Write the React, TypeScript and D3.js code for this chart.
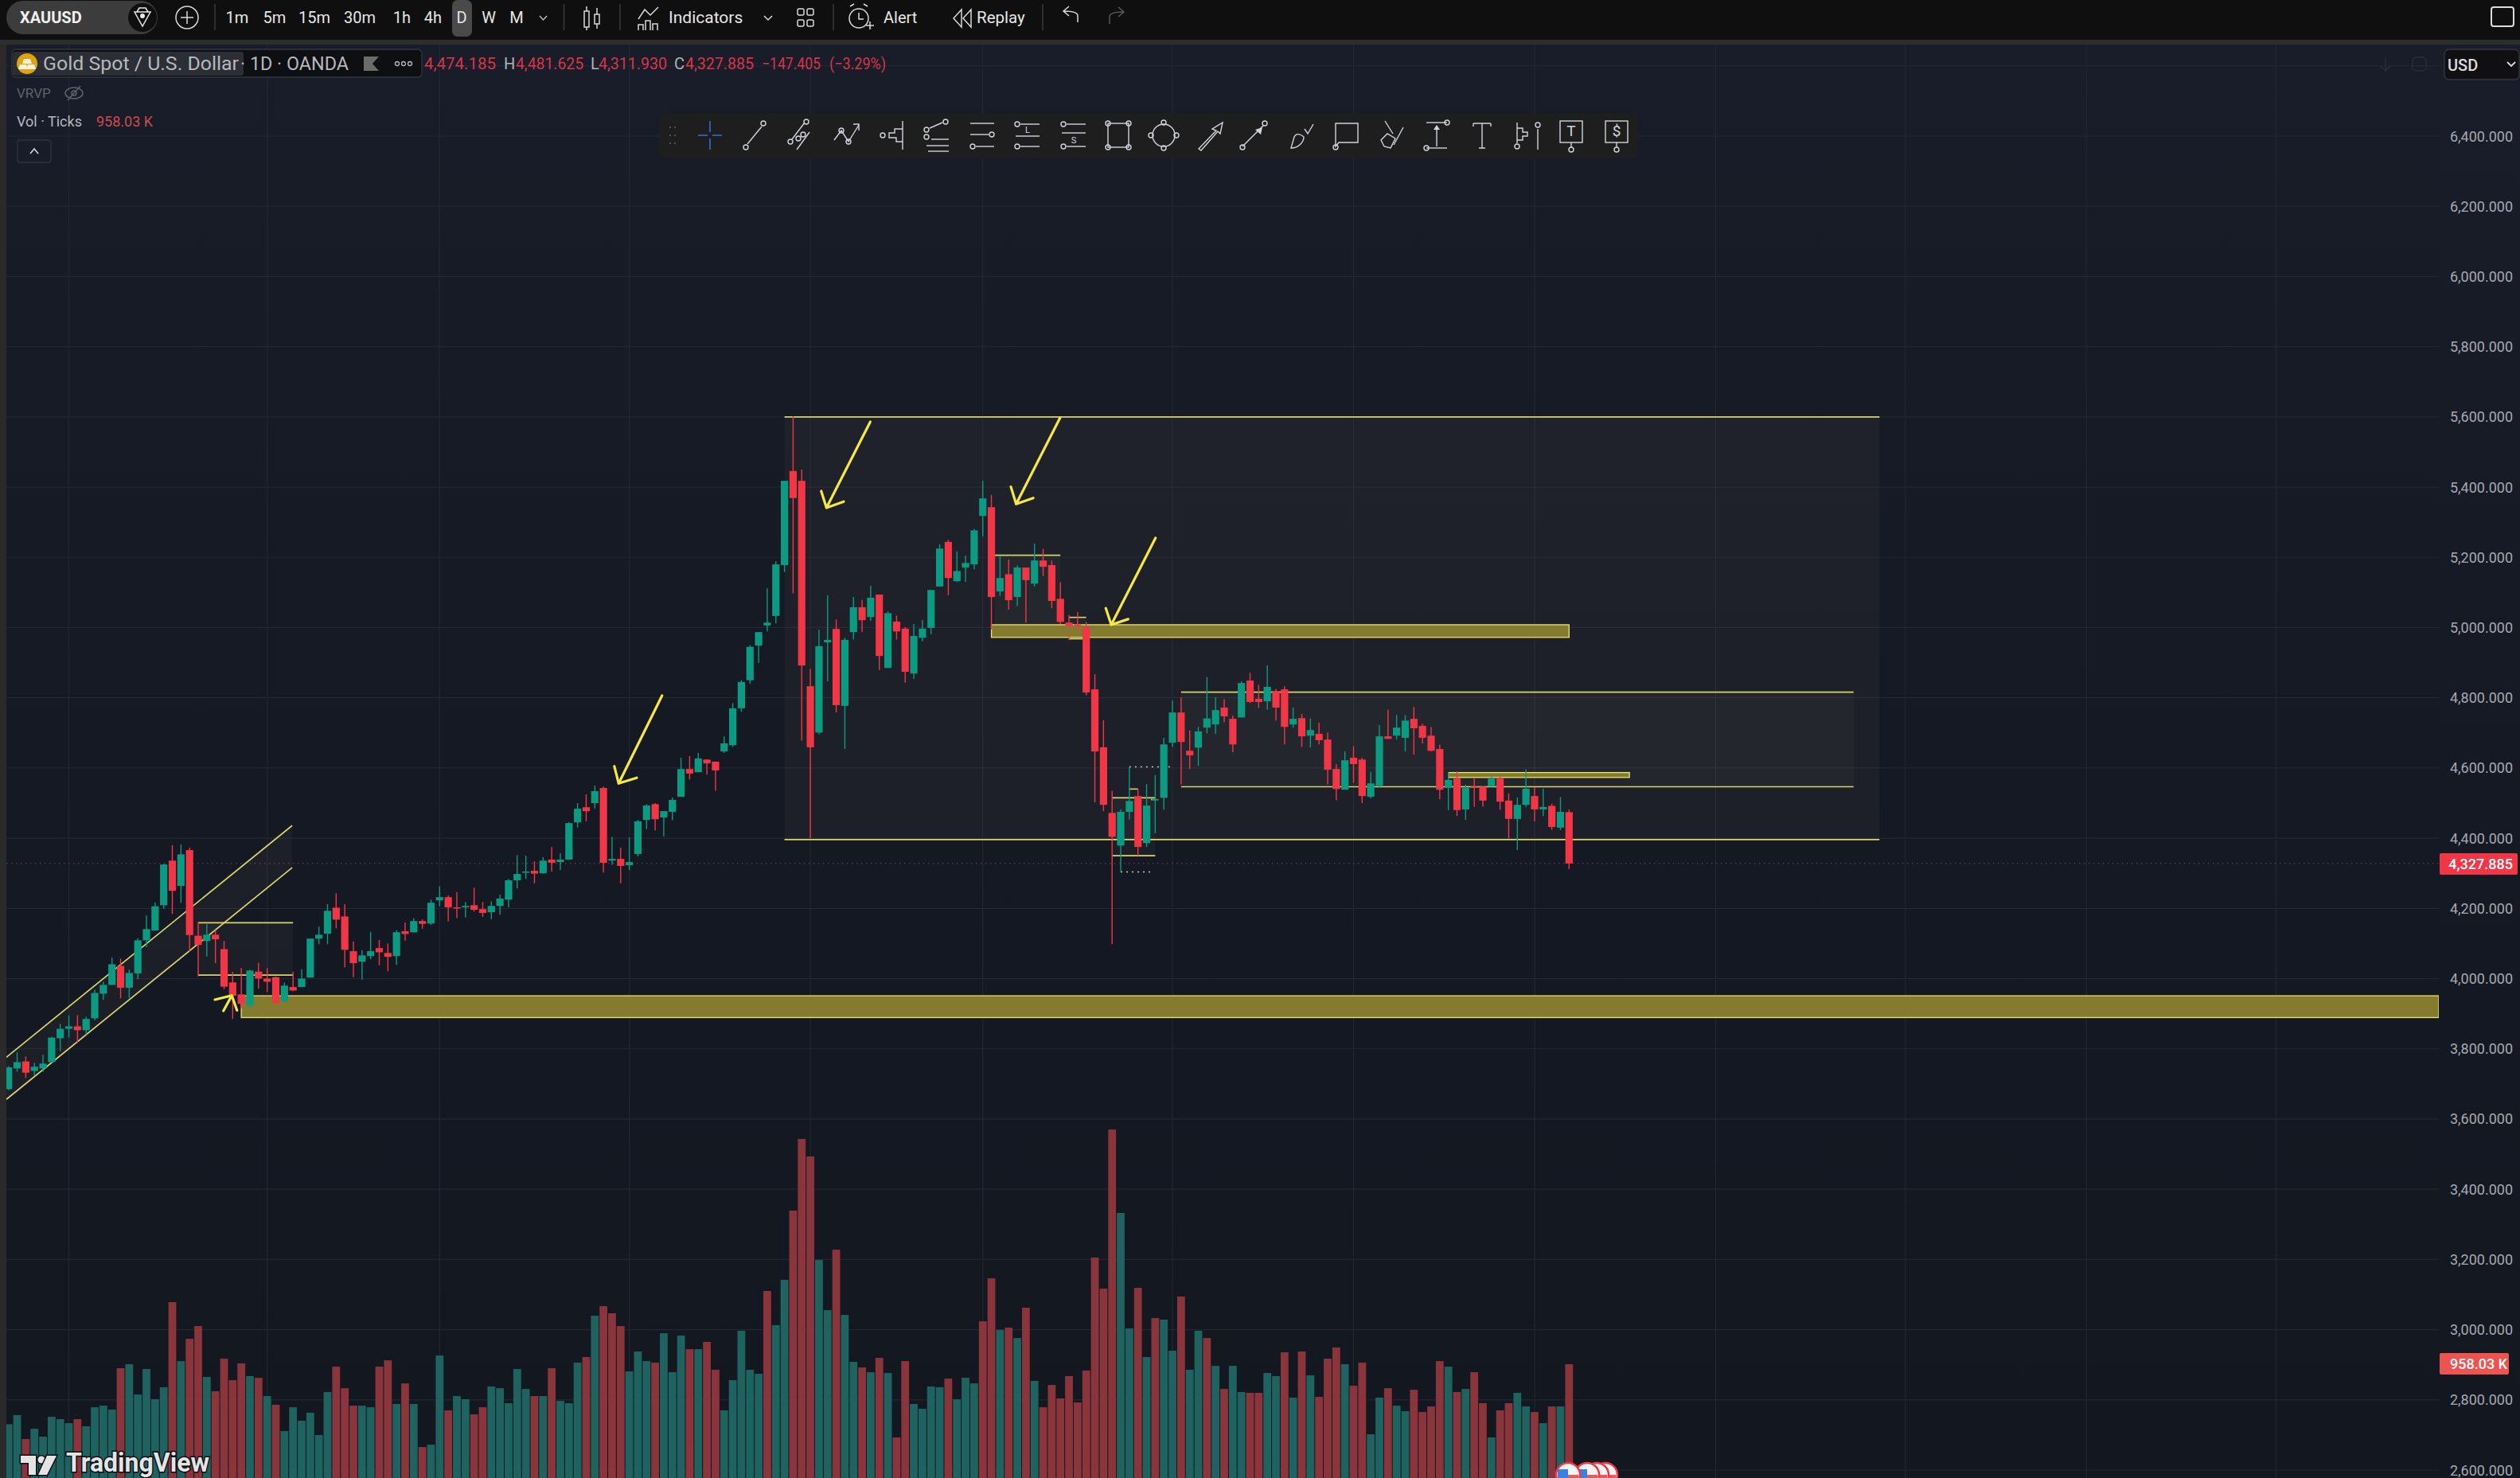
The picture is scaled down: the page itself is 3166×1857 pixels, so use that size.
import React from "react";
import * as d3 from "d3";

const W = 3166, H = 1857;
const opens = [3685,3744,3764,3737,3744,3762,3830,3857,3864,3853,3887,3957,3982,4036,3974,4015,4109,4137,4209,4336,4264,4366,4122,4107,4125,4084,3989,3955,3923,4020,4000,4004,3935,3976,3976,4003,4114,4128,4202,4177,4078,4048,4064,4087,4073,4064,4135,4132,4164,4157,4223,4232,4203,4203,4209,4198,4189,4207,4225,4280,4302,4307,4300,4339,4332,4339,4445,4488,4500,4543,4336,4341,4323,4355,4452,4497,4459,4475,4518,4597,4588,4624,4618,4647,4665,4770,4850,4949,5006,5033,5178,5446,5418,4833,4701,4958,4996,4777,4987,5058,5030,5094,4885,5017,4997,4869,4971,4999,5117,5244,5132,5171,5180,5318,5343,5103,5152,5087,5171,5125,5191,5178,5082,5014,5009,5001,4824,4659,4472,4379,4475,4520,4386,4509,4515,4672,4758,4649,4658,4715,4724,4772,4740,4744,4849,4797,4790,4819,4824,4724,4742,4692,4697,4681,4597,4538,4629,4624,4518,4549,4690,4692,4686,4740,4720,4692,4654,4543,4570,4482,4547,4547,4547,4570,4507,4455,4495,4520,4482,4492,4430,4474.185];
const highs = [3750,3790,3778,3760,3783,3834,3871,3895,3896,3891,3968,3991,4060,4057,4025,4115,4180,4217,4327,4380,4382,4373,4161,4155,4138,4107,4019,4030,4025,4045,4030,4006,3989,4019,4027,4114,4148,4212,4243,4212,4106,4081,4133,4110,4100,4138,4160,4172,4169,4225,4263,4237,4246,4218,4259,4218,4220,4239,4284,4352,4350,4334,4346,4375,4357,4446,4500,4525,4550,4547,4404,4373,4402,4452,4497,4500,4477,4516,4629,4634,4643,4624,4618,4690,4785,4850,4950,4987,5112,5189,5418,5602,5450,4882,4994,5092,5023,4971,5087,5079,5119,5094,5046,5034,5001,5010,5022,5107,5237,5250,5217,5205,5281,5418,5378,5204,5194,5177,5171,5239,5224,5191,5129,5036,5044,5016,4867,4736,4535,4482,4603,4539,4554,4580,4686,4792,4801,4707,4717,4859,4801,4796,4749,4847,4871,4837,4892,4825,4833,4772,4754,4741,4729,4701,4611,4647,4662,4629,4588,4722,4766,4751,4751,4774,4726,4717,4666,4588,4590,4552,4571,4547,4575,4575,4528,4516,4596,4545,4541,4498,4517,4481.625];
const lows = [3683,3735,3717,3722,3734,3760,3793,3832,3817,3840,3881,3939,3982,3944,3945,3998,4090,4137,4199,4184,4216,4078,4006,4063,4044,3970,3885,3915,3919,3971,3962,3929,3933,3964,3976,4003,4098,4098,4143,4032,4004,3997,4055,4038,4021,4039,4108,4131,4142,4153,4206,4163,4172,4174,4191,4176,4169,4182,4203,4257,4284,4271,4299,4305,4309,4339,4430,4448,4484,4302,4324,4271,4309,4348,4426,4422,4405,4451,4518,4567,4588,4581,4535,4643,4660,4760,4840,4899,4989,5012,5158,5097,4678,4400,4696,4847,4758,4654,4966,4987,5019,4879,4885,4966,4843,4854,4961,4981,5117,5092,5130,5130,5166,5259,4994,5090,5051,5061,5014,5117,5147,5055,5010,4964,4975,4807,4502,4477,4098,4304,4453,4350,4375,4414,4481,4660,4553,4597,4606,4699,4697,4730,4645,4744,4785,4771,4766,4735,4667,4715,4660,4658,4667,4553,4508,4538,4558,4500,4513,4544,4683,4681,4647,4638,4670,4647,4511,4480,4463,4452,4489,4490,4547,4481,4399,4366,4489,4448,4463,4424,4423,4311.93];
const closes = [3747,3762,3732,3749,3758,3832,3857,3864,3853,3885,3959,3982,4041,3974,4016,4109,4141,4206,4325,4250,4354,4124,4096,4125,4112,3977,3951,3928,4023,4000,3991,3930,3980,3966,4000,4114,4125,4193,4168,4082,4044,4066,4078,4075,4062,4132,4127,4164,4156,4216,4232,4203,4201,4207,4196,4187,4207,4228,4280,4298,4305,4299,4336,4330,4339,4443,4484,4477,4534,4330,4341,4321,4332,4448,4493,4454,4477,4509,4597,4584,4627,4613,4593,4670,4770,4845,4945,4987,5014,5180,5418,5369,4892,4659,4947,4965,4779,4965,5058,5021,5085,4919,5041,4989,4874,4976,4997,5107,5225,5141,5161,5184,5277,5368,5087,5141,5078,5171,5135,5191,5173,5076,5016,5003,5001,4815,4647,4495,4404,4475,4506,4375,4493,4511,4667,4758,4674,4636,4704,4741,4765,4747,4667,4842,4788,4788,4831,4772,4717,4740,4690,4708,4679,4595,4540,4622,4611,4520,4556,4690,4683,4715,4735,4713,4686,4649,4538,4566,4480,4543,4543,4507,4570,4504,4455,4495,4541,4482,4489,4432,4475,4327.885];
const volumes = [495,565,381,460,399,552,534,503,534,479,626,638,608,927,958,724,921,688,780,1437,982,1154,1252,859,749,1001,835,964,866,853,712,645,442,626,522,583,411,743,939,773,638,638,626,939,988,651,810,651,319,337,1025,602,712,688,571,626,786,773,657,921,767,712,712,927,675,657,970,1013,1332,1406,1351,1252,902,1056,982,970,1197,896,1179,1074,1074,1130,915,602,835,1216,915,884,1523,1259,1609,2143,2696,2561,1762,1375,1842,1338,976,933,896,1007,890,393,982,651,614,786,780,847,687,853,810,1289,1621,1222,1240,1160,1394,829,626,798,694,866,663,909,1781,1541,2769,2125,1234,1547,1013,1314,1302,1062,1480,915,1216,1160,945,767,945,743,737,737,890,866,1050,700,1056,872,706,1001,1087,958,792,970,417,700,773,638,595,761,589,632,982,939,743,767,896,657,393,602,657,737,632,589,503,632,632,958.03];
const volumeDirs = ("uuduuuuudu"+"uuuduuuuud"+"udduddddud"+"uduuuuuudd"+"duuddududu"+"uduudduuuu"+"ududuuudud"+"dduuuduuud"+"udduuuuudu"+"uddduuduud"+"ududduuuud"+"uuuddududu"+"dddddddddu"+"ududuuduud"+"uduudduudu"+"dudddudduu"+"duuddddudu"+"ddudduudud"+"ud").split("");
const priceTicks = [6600,6400,6200,6000,5800,5600,5400,5200,5000,4800,4600,4400,4200,4000,3800,3600,3400,3200,3000,2800,2600];
const monthBars = [7,30,50,72,93,113,135,156,177,198,220,241,263];
const lastPrice = 4327.885;
const lastVolume = 958.03;

// [firstBar, lastBar, topPrice, bottomPrice]
const softBoxes = [[90,217,5600,4396],[136,214,4816,4546.5],[22,33,4159,4010],[114.4,122,5206,4994],[128,133,4515,4350],[123,125,5029,4968]];
const goldZones = [[27,280,3951,3889],[114,181,5008,4972],[167,188,4587,4573]];
const shortLines = [[130,131,4540],[132.5,133.2,4510]];
const dottedLines = [[130,134.7,4603],[129,132.7,4304]];
// channel edge: [bar, price, bar, price]
const channelUpper = [-0.25,3776,32.9,4436];
const channelLower = [-0.25,3656,32.9,4316];
// arrows: shaft start, tip, head ends
const arrows = [
  [[99.95,5586],[94.87,5341],[94.26,5389],[96.87,5359]],
  [[121.95,5597],[116.87,5352],[116.26,5401],[118.85,5369]],
  [[133.03,5255],[127.9,5008],[127.27,5055],[129.86,5024]],
  [[75.8,4806],[70.77,4556],[70.26,4605],[72.87,4572]],
];
const starArrow = [[25.9,3952],[23.94,3940],[24.93,3908],[26.5,3909.5]];

const timeframes = [["1m",298],["5m",345],["15m",395],["30m",452],["1h",505],["4h",544],["D",580],["W",614],["M",649]];
const toolCentres = [892,948,1005,1063,1120,1178,1234,1291,1349,1405,1462,1520,1575,1634,1692,1747,1805,1862,1916,1974,2031];

const x = d3.scaleLinear().domain([0,181]).range([10.7,1971.3]);
const y = d3.scaleLinear().domain([6400,2600]).range([171,1847]);
const yVol = d3.scaleLinear().domain([0,lastVolume]).range([1870,1714]);

const UP = "#0a9b82", DOWN = "#f23645", VUP = "#1f6360", VDOWN = "#8a343c";
const LINE = "#d9d46e", ZONE = "#857b2f", ZLINE = "#ece46f", ARROW = "#f6e83e";
const TXT = "#d1d4dc", DIM = "#b0b3b8", RED = "#d9344a";
const font = "Roboto, sans-serif";
const fmt = d3.format(",.3f");
const plotRight = 3064;

const T = (p: any) => <text fontFamily={font} {...p} />;

function ToolIcon({ i, cx }: { i: number; cx: number }) {
  const s = { fill: "none", stroke: "#d1d4dc", strokeWidth: 1.4 };
  const c = (a: number, b: number, r = 3) => <circle cx={a} cy={b} r={r} {...s} />;
  const l = (a: number, b: number, e: number, f: number) => <line x1={a} y1={b} x2={e} y2={f} {...s} />;
  let g: any = null;
  switch (i) {
    case 0: g = <g stroke="#2f6fd8" strokeWidth={1.6}><line x1={-15} y1={0} x2={-3} y2={0} /><line x1={3} y1={0} x2={15} y2={0} /><line x1={0} y1={-18} x2={0} y2={-4} /><line x1={0} y1={4} x2={0} y2={18} /></g>; break;
    case 1: g = <g>{l(-9,11,9,-11)}{c(-11,15)}{c(11,-15)}</g>; break;
    case 2: g = <g>{l(-10,5,6,-16)}{l(-4,18,12,-4)}{c(-12,8)}{c(8,-17)}{c(-2,4)}{c(4,-1)}</g>; break;
    case 3: g = <g><path d="M-15 6 L-6 -6 L3 8 L16 -13" {...s} /><path d="M9 -14 L16 -14 L16 -6" {...s} />{c(-6,-6)}{c(3,8)}</g>; break;
    case 4: g = <g>{l(14,-18,14,18)}{c(-11,0)}<path d="M14 -8 H4 V-3 H-3 V3 H6 V8 H14" {...s} /></g>; break;
    case 5: g = <g>{c(-14,-7)}{c(-14,2)}{c(10,-17)}{l(-10,-9,6,-16)}{l(-8,5,14,5)}{l(-14,13,14,13)}{l(-12,20,14,20)}</g>; break;
    case 6: g = <g>{l(-15,-15,15,-15)}{l(-15,-1,8,-1)}{l(-8,14,15,14)}{c(12,-1)}{c(-12,14)}</g>; break;
    case 7: g = <g>{l(-9,-14,15,-14)}{l(-9,14,15,14)}{l(-15,1,15,1)}{c(-13,-14)}{c(-13,14)}<text x={0} y={-3} fontSize={11} fill="#d1d4dc" textAnchor="middle" fontFamily={font}>L</text></g>; break;
    case 8: g = <g>{l(-9,-14,15,-14)}{l(-9,14,15,14)}{l(-15,-3,15,-3)}{c(-13,-14)}{c(-13,14)}<text x={0} y={10} fontSize={11} fill="#d1d4dc" textAnchor="middle" fontFamily={font}>S</text></g>; break;
    case 9: g = <g><rect x={-13} y={-15} width={26} height={30} {...s} />{c(-13,-15)}{c(13,-15)}{c(-13,15)}{c(13,15)}</g>; break;
    case 10: g = <g><circle r={14} {...s} />{c(0,-16)}{c(0,16)}{c(-16,0)}{c(16,0)}</g>; break;
    case 11: g = <g><path d="M-14 17 L8 -6 L3 -8 L16 -16 L13 -2 L10 -5 L-11 19 Z" {...s} /></g>; break;
    case 12: g = <g>{l(-14,14,12,-12)}{c(-14,15)}{c(14,-15)}<path d="M2 -7 L11 -10 L9 -1 Z" fill="#d1d4dc" /></g>; break;
    case 13: g = <g><path d="M-12 16 C-2 16 4 8 4 2 C-2 -3 -6 -2 -8 2 Z" {...s} /><path d="M5 -8 L9 -2 L16 -14" {...s} /></g>; break;
    case 14: g = <g><path d="M-14 -15 H14 V9 H-10 L-14 14 Z" {...s} />{c(-14,15)}</g>; break;
    case 15: g = <g>{l(-7,-18,3,-2)}{l(16,-10,4,12)}<path d="M-12 6 L-4 -2 L6 4 L0 16 L-8 14 Z" {...s} /></g>; break;
    case 16: g = <g>{l(-13,-16,13,-16)}{l(-13,16,13,16)}{l(0,-12,0,14)}<path d="M-4 -7 L0 -13 L4 -7 Z" fill="#d1d4dc" />{c(13,-16)}{c(-13,16)}</g>; break;
    case 17: g = <g><path d="M-11 -15 H11 M0 -15 V16 M-4 16 H4" {...s} /><path d="M-11 -15 V-11 M11 -15 V-11" {...s} /></g>; break;
    case 18: g = <g>{l(-10,-16,-10,10)}{c(-10,14)}<path d="M-10 -9 H-3 V-4 H3 V1 H-3 V6 H-10" {...s} />{l(16,-8,16,18)}{c(16,-13)}</g>; break;
    default: g = <g><rect x={-14} y={-18} width={28} height={27} {...s} />{l(0,9,0,15)}{c(0,18)}<text x={0} y={1} fontSize={19} fill="#d1d4dc" textAnchor="middle" fontFamily={font}>{i === 19 ? "T" : "$"}</text></g>;
  }
  return <g transform={`translate(${cx},170)`}>{g}</g>;
}

function Candles() {
  return <g>{opens.map((o, i) => {
    const up = closes[i] >= o;
    const col = up ? UP : DOWN;
    const top = y(Math.max(o, closes[i])), bot = y(Math.min(o, closes[i]));
    return <g key={i} fill={col}>
      <rect x={x(i)-0.7} y={y(highs[i])} width={1.4} height={y(lows[i])-y(highs[i])} />
      <rect x={x(i)-4.6} y={top} width={9.2} height={Math.max(1.5, bot-top)} />
    </g>;
  })}</g>;
}

export default function App() {
  return (
    <svg width={W} height={H} viewBox={`0 0 ${W} ${H}`} style={{ position: "fixed", left: 0, top: 0, display: "block" }}>
      <defs>
        <linearGradient id="bg" x1="0" y1="0" x2="0" y2="1">
          <stop offset="0" stopColor="#181d29" /><stop offset="0.5" stopColor="#151923" /><stop offset="1" stopColor="#131720" />
        </linearGradient>
      </defs>
      <rect x={0} y={0} width={W} height={H} fill="url(#bg)" />
      {/* grid */}
      <g stroke="#232731" strokeWidth={1.2}>
        {priceTicks.map(t => <line key={t} x1={8} x2={plotRight} y1={y(t)} y2={y(t)} />)}
        {monthBars.map(b => <line key={b} x1={x(b)} x2={x(b)} y1={56} y2={H} />)}
      </g>
      {/* volume */}
      <g>{volumes.map((v, i) => (
        <rect key={i} x={x(i)-4.9} width={9.8} y={yVol(v)} height={yVol(0)-yVol(v)} fill={volumeDirs[i] === "u" ? VUP : VDOWN} />
      ))}</g>
      {/* price line */}
      <line x1={8} x2={plotRight} y1={y(lastPrice)} y2={y(lastPrice)} stroke="#d0506a" strokeOpacity={0.55} strokeWidth={1.2} strokeDasharray="1.5 4.5" />
      {/* channel */}
      <path d={`M${x(channelUpper[0])},${y(channelUpper[1])}L${x(channelUpper[2])},${y(channelUpper[3])}L${x(channelLower[2])},${y(channelLower[3])}L${x(channelLower[0])},${y(channelLower[1])}Z`} fill="#f4ecc4" fillOpacity={0.035} />
      {[channelUpper, channelLower].map((c, k) => <line key={k} x1={x(c[0])} y1={y(c[1])} x2={x(c[2])} y2={y(c[3])} stroke={LINE} strokeWidth={1.7} />)}
      {/* boxes */}
      {softBoxes.map((b, k) => <g key={k}>
        <rect x={x(b[0])} y={y(b[2])} width={x(b[1])-x(b[0])} height={y(b[3])-y(b[2])} fill="#f4ecc4" fillOpacity={0.035} />
        <line x1={x(b[0])} x2={x(b[1])} y1={y(b[2])} y2={y(b[2])} stroke={LINE} strokeWidth={1.6} />
        <line x1={x(b[0])} x2={x(b[1])} y1={y(b[3])} y2={y(b[3])} stroke={LINE} strokeWidth={1.6} />
      </g>)}
      {shortLines.map((b, k) => <line key={k} x1={x(b[0])} x2={x(b[1])} y1={y(b[2])} y2={y(b[2])} stroke={LINE} strokeWidth={1.6} />)}
      {dottedLines.map((b, k) => <line key={k} x1={x(b[0])} x2={x(b[1])} y1={y(b[2])} y2={y(b[2])} stroke="#c9c9bb" strokeWidth={1.4} strokeDasharray="2 5" />)}
      {goldZones.map((z, k) => {
        const right = k === 0 ? plotRight : x(z[1]);
        return <rect key={k} x={x(z[0])} y={y(z[2])} width={right-x(z[0])} height={y(z[3])-y(z[2])} fill={ZONE} stroke={ZLINE} strokeWidth={1.3} />;
      })}
      <Candles />
      {/* the 5,000 zone lies over the two small candles that touch it */}
      <rect x={x(122.5)} y={y(goldZones[1][2])+1} width={x(124.5)-x(122.5)} height={y(goldZones[1][3])-y(goldZones[1][2])-2} fill={ZONE} fillOpacity={0.55} />
      {/* arrows */}
      <g fill="none" stroke={ARROW} strokeWidth={3.2} strokeLinecap="round" strokeLinejoin="round">
        {arrows.map((a, k) => <path key={k} d={`M${x(a[0][0])},${y(a[0][1])}L${x(a[1][0])},${y(a[1][1])}M${x(a[2][0])},${y(a[2][1])}L${x(a[1][0])},${y(a[1][1])}L${x(a[3][0])},${y(a[3][1])}`} />)}
        <path d={starArrow.slice(1).map(p => `M${x(starArrow[0][0])},${y(starArrow[0][1])}L${x(p[0])},${y(p[1])}`).join("")} />
      </g>
      {/* left strip */}
      <rect x={0} y={56} width={8} height={H-56} fill="#2a2a2b" />
      {/* price axis */}
      <rect x={plotRight} y={56} width={W-plotRight} height={H-56} fill="url(#bg)" />
      {priceTicks.slice(1).map(t => <T key={t} x={3157} y={y(t)+6.5} fontSize={18} fill="#a6a9b1" textAnchor="end">{fmt(t)}</T>)}
      <rect x={3065} y={1072} width={98} height={27} rx={2} fill={DOWN} />
      <T x={3157} y={1091.5} fontSize={18} fontWeight={500} fill="#fff" textAnchor="end">{fmt(lastPrice)}</T>
      <rect x={3065} y={1700} width={87} height={27} rx={2} fill="#ef5350" />
      <T x={3078} y={1719.5} fontSize={18} fontWeight={500} fill="#fff">958.03 K</T>
      {/* toolbar */}
      <rect x={0} y={0} width={W} height={50} fill="#0f0f0f" />
      <rect x={0} y={50} width={W} height={6} fill="#2e2e2e" />
      <rect x={8} y={1} width={190} height={42} rx={21} fill="#3c3c3c" />
      <T x={25} y={29} fontSize={20} fontWeight={700} fill="#f0f0f0">XAUUSD</T>
      <circle cx={179} cy={22} r={18} fill="#0f0f0f" />
      <path d="M169 15 H189 L179 33 Z M172 15 L175 10 H183 L186 15" fill="none" stroke="#e8e8e8" strokeWidth={1.5} />
      <circle cx={179} cy={20} r={3} fill="#e8e8e8" />
      <circle cx={235} cy={22} r={14} fill="none" stroke="#d9d9d9" strokeWidth={1.5} />
      <path d="M235 14 V30 M227 22 H243" stroke="#d9d9d9" strokeWidth={1.5} />
      {[270,708.5,779,1047,1310].map(s => <line key={s} x1={s} x2={s} y1={5} y2={38} stroke="#3a3a3a" strokeWidth={1.5} />)}
      <rect x={568} y={0} width={25} height={46} rx={7} fill="#4a4a4a" />
      {timeframes.map(([t, c]: any) => <T key={t} x={c} y={29} fontSize={20} fill="#e6e6e6" textAnchor="middle">{t}</T>)}
      <path d="M678 20 L682.5 25 L687 20" fill="none" stroke="#bbb" strokeWidth={1.5} />
      <g fill="none" stroke="#d9d9d9" strokeWidth={1.5}>
        <rect x={734} y={14} width={6} height={20} /><path d="M737 8 V14 M737 34 V38" />
        <rect x={747} y={18} width={6} height={12} /><path d="M750 10 V18 M750 30 V36" />
        <path d="M802 24 L810 12 L817 19 L827 9 M802 38 V31 H808 V38 M811 38 V26 H817 V38 M820 38 V30 H826 V38" />
        <path d="M960 20 L965 25 L970 20" />
        <rect x={1002} y={11} width={8} height={8} rx={2} /><rect x={1014} y={11} width={8} height={8} rx={2} />
        <rect x={1002} y={25} width={8} height={8} rx={2} /><rect x={1014} y={25} width={8} height={8} rx={2} />
        <circle cx={1079} cy={23} r={12} /><path d="M1079 16 V24 H1085 M1068 8 L1073 5 M1090 8 L1085 5 M1088 32 H1098 M1093 27 V37" />
        <path d="M1208 12 L1198 23 L1208 34 Z M1220 12 L1210 23 L1220 34 Z" />
        <path d="M1354 28 V20 C1354 15 1345 14 1337 14 M1343 8 L1336 14 L1343 20" />
        <path d="M1394 30 V21 C1394 16 1403 15 1411 15 M1405 9 L1412 15 L1405 21" stroke="#5a5a5a" />
        <rect x={3130} y={9} width={28} height={24} rx={3} strokeWidth={2} stroke="#dcdcdc" />
      </g>
      <T x={840} y={29} fontSize={21} fill="#e6e6e6">Indicators</T>
      <T x={1110} y={29} fontSize={20} fill="#e6e6e6">Alert</T>
      <T x={1227} y={29} fontSize={20.5} fill="#e6e6e6">Replay</T>
      {/* legend */}
      <rect x={15} y={62} width={515} height={35} rx={5} fill="#0e0f12" stroke="#34373f" strokeWidth={1.3} />
      <rect x={16} y={65} width={290} height={30} rx={3} fill="#2b2e34" />
      <circle cx={34} cy={80} r={13} fill="#e0a30c" />
      <path d="M30 74 H38 L40 80 H28 Z M25 81 H33 L35 87 H23 Z M35 81 H43 L45 87 H33 Z" fill="#f5f0e0" />
      <T x={54} y={88} fontSize={24} fill="#b6b8bd" textLength={246} lengthAdjust="spacingAndGlyphs">Gold Spot / U.S. Dollar</T>
      <T x={302} y={88} fontSize={23} fill="#b6b8bd" textLength={136} lengthAdjust="spacingAndGlyphs">· 1D · OANDA</T>
      <path d="M457 71 H476 L468 80 L476 89 H457 Z" fill="#6b6b6b" />
      {[499,507,515].map(c => <circle key={c} cx={c} cy={80} r={2.5} fill="none" stroke="#b6b8bd" strokeWidth={1.3} />)}
      <T x={533} y={87} fontSize={20} fill={RED} textLength={90} lengthAdjust="spacingAndGlyphs">4,474.185</T>
      <T x={633} y={87} fontSize={20} fill={DIM}>H</T>
      <T x={648} y={87} fontSize={20} fill={RED} textLength={85} lengthAdjust="spacingAndGlyphs">4,481.625</T>
      <T x={742} y={87} fontSize={20} fill={DIM}>L</T>
      <T x={752} y={87} fontSize={20} fill={RED} textLength={86} lengthAdjust="spacingAndGlyphs">4,311.930</T>
      <T x={847} y={87} fontSize={20} fill={DIM}>C</T>
      <T x={861} y={87} fontSize={20} fill={RED} textLength={86} lengthAdjust="spacingAndGlyphs">4,327.885</T>
      <T x={957} y={87} fontSize={20} fill={RED} textLength={74} lengthAdjust="spacingAndGlyphs">−147.405</T>
      <T x={1042} y={87} fontSize={20} fill={RED} textLength={71} lengthAdjust="spacingAndGlyphs">(−3.29%)</T>
      <T x={21} y={123} fontSize={17} fill="#5f636c">VRVP</T>
      <g fill="none" stroke="#5f636c" strokeWidth={1.5}>
        <ellipse cx={93} cy={117} rx={11} ry={7} /><circle cx={93} cy={117} r={3} /><path d="M85 126 L101 108" />
      </g>
      <T x={21} y={159} fontSize={18} fill="#b6b8bd">Vol · Ticks</T>
      <T x={121} y={159} fontSize={18} fill="#cf4a50">958.03 K</T>
      <rect x={22} y={176} width={42} height={28} rx={3} fill="none" stroke="#2e3340" strokeWidth={1.3} />
      <path d="M38 193 L43 187 L48 193" fill="none" stroke="#d1d4dc" strokeWidth={1.6} />
      {/* drawing toolbar */}
      <rect x={828} y={143} width={1230} height={56} rx={6} fill="#1e1e1f" />
      {[160,170,180].map(v => [842,848].map(u => <circle key={`${u}-${v}`} cx={u} cy={v} r={1.1} fill="#5c5c5c" />))}
      {toolCentres.map((c, i) => <ToolIcon key={i} i={i} cx={c} />)}
      {/* currency selector */}
      <rect x={3071} y={62} width={94} height={38} rx={6} fill="#101013" stroke="#34373f" strokeWidth={1.3} />
      <T x={3075} y={89} fontSize={20} fontWeight={500} fill="#dcdcdc">USD</T>
      <path d="M3150 78 L3155 83 L3160 78" fill="none" stroke="#dcdcdc" strokeWidth={1.8} />
      <g fill="none" stroke="#2a2e39" strokeWidth={1.4}>
        <path d="M2997 72 V88 M2991 83 L2997 89 L3003 83" /><rect x={3031} y={72} width={17} height={17} rx={4} />
      </g>
      {/* event flags */}
      {[2017,2006,1994,1970].map(c => <g key={c}>
        <circle cx={c} cy={1853} r={15} fill="#f4f4f4" stroke={DOWN} strokeWidth={2.5} />
        <path d={`M${c-13} 1846 H${c} V1857 H${c-13} Z`} fill="#3b82e0" />
        <path d={`M${c} 1853 H${c+13} V1857 H${c} Z`} fill="#e65a5a" />
      </g>)}
      {/* watermark */}
      <g stroke="#0b0d12" strokeWidth={3} paintOrder="stroke" fill="#e4e4e4">
        <path d="M26 1829 H45 V1853 H36 V1838 H26 Z" />
        <circle cx={52} cy={1834} r={4.5} />
        <path d="M59 1829 H71 L59 1853 H48 Z" />
      </g>
      <T x={83} y={1849} fontSize={33} fontWeight={700} fill="#e4e4e4" stroke="#0b0d12" strokeWidth={3} paintOrder="stroke" textLength={180} lengthAdjust="spacingAndGlyphs">TradingView</T>
    </svg>
  );
}
